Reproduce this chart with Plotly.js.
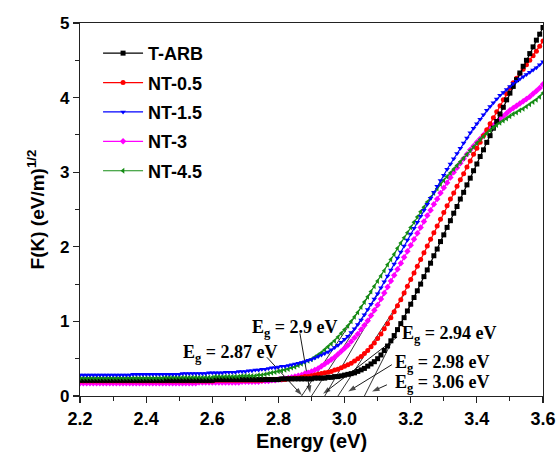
<!DOCTYPE html>
<html>
<head>
<meta charset="utf-8">
<script src="https://cdn.plot.ly/plotly-3.0.1.min.js"></script>
<style>html,body{margin:0;padding:0;background:#fff;}</style>
</head>
<body>
<div id="chart" style="width:560px;height:452px;"></div>
<script>
// ---- data ----
const energy = [
2.20,2.21,2.22,2.23,2.24,2.25,2.26,2.27,2.28,2.29,
2.30,2.31,2.32,2.33,2.34,2.35,2.36,2.37,2.38,2.39,
2.40,2.41,2.42,2.43,2.44,2.45,2.46,2.47,2.48,2.49,
2.50,2.51,2.52,2.53,2.54,2.55,2.56,2.57,2.58,2.59,
2.60,2.61,2.62,2.63,2.64,2.65,2.66,2.67,2.68,2.69,
2.70,2.71,2.72,2.73,2.74,2.75,2.76,2.77,2.78,2.79,
2.80,2.81,2.82,2.83,2.84,2.85,2.86,2.87,2.88,2.89,
2.90,2.91,2.92,2.93,2.94,2.95,2.96,2.97,2.98,2.99,
3.00,3.01,3.02,3.03,3.04,3.05,3.06,3.07,3.08,3.09,
3.10,3.11,3.12,3.13,3.14,3.15,3.16,3.17,3.18,3.19,
3.20,3.21,3.22,3.23,3.24,3.25,3.26,3.27,3.28,3.29,
3.30,3.31,3.32,3.33,3.34,3.35,3.36,3.37,3.38,3.39,
3.40,3.41,3.42,3.43,3.44,3.45,3.46,3.47,3.48,3.49,
3.50,3.51,3.52,3.53,3.54,3.55,3.56,3.57,3.58,3.59,
3.60];

const tARB = [
0.21,0.21,0.21,0.21,0.21,0.21,0.21,0.21,0.21,0.21,
0.21,0.21,0.21,0.21,0.21,0.21,0.21,0.21,0.21,0.21,
0.21,0.21,0.21,0.21,0.21,0.21,0.21,0.21,0.21,0.21,
0.21,0.21,0.21,0.21,0.21,0.21,0.21,0.21,0.21,0.21,
0.21,0.22,0.22,0.22,0.22,0.22,0.22,0.22,0.22,0.22,
0.22,0.22,0.22,0.22,0.22,0.22,0.22,0.22,0.22,0.22,
0.22,0.23,0.23,0.23,0.23,0.23,0.23,0.23,0.23,0.23,
0.23,0.24,0.24,0.24,0.24,0.25,0.25,0.26,0.26,0.27,
0.28,0.29,0.30,0.31,0.33,0.35,0.37,0.40,0.43,0.46,
0.50,0.55,0.61,0.67,0.74,0.81,0.89,0.97,1.05,1.14,
1.23,1.32,1.41,1.50,1.60,1.69,1.78,1.88,1.97,2.07,
2.16,2.26,2.35,2.45,2.54,2.64,2.73,2.83,2.92,3.02,
3.11,3.21,3.30,3.40,3.49,3.59,3.68,3.78,3.87,3.97,
4.06,4.15,4.24,4.33,4.42,4.50,4.59,4.68,4.77,4.85,
4.94];

const nt05 = [
0.20,0.20,0.20,0.20,0.20,0.20,0.20,0.20,0.20,0.20,
0.20,0.20,0.20,0.20,0.20,0.20,0.20,0.20,0.20,0.20,
0.20,0.20,0.20,0.20,0.20,0.20,0.20,0.20,0.20,0.20,
0.20,0.20,0.20,0.20,0.20,0.20,0.20,0.20,0.20,0.20,
0.20,0.21,0.21,0.21,0.21,0.21,0.21,0.21,0.21,0.21,
0.21,0.21,0.21,0.21,0.21,0.21,0.22,0.22,0.22,0.22,
0.22,0.22,0.22,0.23,0.23,0.24,0.24,0.25,0.26,0.26,
0.27,0.28,0.29,0.30,0.31,0.32,0.33,0.35,0.36,0.38,
0.40,0.42,0.44,0.47,0.50,0.53,0.57,0.61,0.66,0.71,
0.77,0.83,0.90,0.97,1.05,1.13,1.21,1.29,1.38,1.47,
1.56,1.65,1.74,1.83,1.92,2.01,2.10,2.19,2.28,2.37,
2.46,2.55,2.64,2.72,2.81,2.90,2.98,3.07,3.15,3.24,
3.32,3.40,3.49,3.57,3.65,3.73,3.81,3.89,3.97,4.05,
4.13,4.20,4.26,4.32,4.38,4.44,4.50,4.56,4.62,4.69,
4.76];

const nt15 = [
0.28,0.28,0.28,0.28,0.28,0.28,0.28,0.28,0.28,0.28,
0.28,0.28,0.28,0.28,0.28,0.28,0.29,0.29,0.29,0.29,
0.29,0.29,0.29,0.29,0.29,0.29,0.29,0.29,0.29,0.29,
0.29,0.30,0.30,0.30,0.30,0.30,0.30,0.30,0.30,0.31,
0.31,0.31,0.31,0.31,0.32,0.32,0.32,0.32,0.33,0.33,
0.33,0.34,0.34,0.35,0.35,0.36,0.36,0.37,0.38,0.38,
0.39,0.40,0.40,0.41,0.42,0.43,0.44,0.45,0.46,0.48,
0.49,0.51,0.53,0.55,0.57,0.59,0.62,0.65,0.68,0.72,
0.76,0.80,0.85,0.90,0.96,1.02,1.09,1.16,1.23,1.30,
1.37,1.45,1.53,1.61,1.69,1.77,1.85,1.93,2.01,2.09,
2.17,2.25,2.33,2.41,2.49,2.57,2.65,2.73,2.81,2.89,
2.96,3.04,3.11,3.18,3.25,3.32,3.39,3.46,3.53,3.59,
3.65,3.71,3.77,3.83,3.88,3.93,3.98,4.03,4.07,4.11,
4.15,4.19,4.22,4.25,4.28,4.31,4.34,4.37,4.40,4.44,
4.48];

const nt3 = [
0.17,0.17,0.17,0.17,0.17,0.17,0.17,0.17,0.17,0.17,
0.17,0.17,0.17,0.17,0.17,0.17,0.17,0.17,0.17,0.17,
0.17,0.17,0.17,0.17,0.17,0.17,0.17,0.17,0.17,0.17,
0.17,0.17,0.17,0.17,0.17,0.17,0.18,0.18,0.18,0.18,
0.18,0.18,0.18,0.18,0.18,0.18,0.18,0.18,0.18,0.19,
0.19,0.19,0.19,0.19,0.19,0.20,0.20,0.20,0.21,0.21,
0.22,0.22,0.23,0.24,0.25,0.26,0.27,0.28,0.30,0.31,
0.33,0.35,0.37,0.40,0.43,0.46,0.49,0.52,0.56,0.60,
0.64,0.68,0.73,0.78,0.83,0.89,0.95,1.01,1.08,1.15,
1.22,1.30,1.38,1.46,1.54,1.62,1.70,1.78,1.86,1.94,
2.02,2.10,2.18,2.26,2.34,2.42,2.49,2.57,2.64,2.72,
2.79,2.86,2.93,3.00,3.06,3.12,3.18,3.24,3.30,3.35,
3.40,3.45,3.50,3.55,3.59,3.63,3.67,3.71,3.75,3.79,
3.83,3.86,3.89,3.92,3.95,3.98,4.01,4.05,4.09,4.13,
4.18];

const nt45 = [
0.24,0.24,0.24,0.24,0.24,0.24,0.24,0.24,0.24,0.24,
0.24,0.24,0.24,0.24,0.24,0.24,0.24,0.24,0.24,0.24,
0.24,0.24,0.24,0.24,0.24,0.24,0.25,0.25,0.25,0.25,
0.25,0.25,0.25,0.25,0.25,0.25,0.25,0.25,0.25,0.25,
0.25,0.26,0.26,0.26,0.26,0.26,0.26,0.26,0.26,0.27,
0.27,0.27,0.27,0.27,0.28,0.28,0.29,0.30,0.31,0.32,
0.33,0.34,0.35,0.36,0.38,0.39,0.41,0.43,0.45,0.47,
0.49,0.52,0.55,0.58,0.62,0.66,0.70,0.74,0.79,0.84,
0.89,0.94,1.00,1.06,1.12,1.19,1.26,1.33,1.40,1.47,
1.54,1.61,1.68,1.76,1.83,1.90,1.98,2.05,2.12,2.19,
2.26,2.33,2.40,2.47,2.53,2.60,2.66,2.72,2.78,2.84,
2.89,2.94,2.99,3.04,3.09,3.14,3.19,3.24,3.29,3.34,
3.39,3.44,3.48,3.52,3.56,3.60,3.63,3.66,3.69,3.72,
3.75,3.78,3.80,3.83,3.85,3.88,3.91,3.94,3.97,4.01,
4.06];

const seriesNames = ["T-ARB", "NT-0.5", "NT-1.5", "NT-3", "NT-4.5"];
const seriesValues = [tARB, nt05, nt15, nt3, nt45];

// band-gap annotations
const egValues = [2.87, 2.9, 2.94, 2.98, 3.06];
const egLabels = ["2.87 eV", "2.9 eV", "2.94 eV", "2.98 eV", "3.06 eV"];
// tangent slope for each curve used to draw the extrapolation lines
const tangentSlopes = [6.6, 6.8, 7.6, 6.8, 8.8];

// ---- styles ----
const colors = ["#000000", "#ff0000", "#0000ff", "#ff00ff", "#148c14"];
const symbols = ["square", "circle", "triangle-down", "diamond", "triangle-left"];

const traces = [];
for (let i = 0; i < egValues.length; i++) {
  const v0 = -0.13, v1 = 1.4;
  traces.push({
    x: [egValues[i] + v0 / tangentSlopes[i], egValues[i] + v1 / tangentSlopes[i]],
    y: [v0, v1],
    mode: "lines", type: "scatter", showlegend: false, hoverinfo: "skip",
    line: {color: "#000", width: 0.8}, cliponaxis: false
  });
}

// label arrows (tail -> head), drawn as line + arrow marker
const labelPos = [
  {x: 2.505, y: 0.57}, {x: 2.714, y: 0.905}, {x: 3.168, y: 0.825},
  {x: 3.146, y: 0.44}, {x: 3.146, y: 0.17}
];
const arrowPos = [
  {x: 2.871, y: 0.01, ax: 2.765, ay: 0.52},
  {x: 2.896, y: 0.04, ax: 2.865, ay: 0.84},
  {x: 2.935, y: 0.03, ax: 3.159, ay: 0.79},
  {x: 3.011, y: 0.06, ax: 3.143, ay: 0.42},
  {x: 3.083, y: 0.06, ax: 3.128, ay: 0.15}
];
for (let i = 0; i < arrowPos.length; i++) {
  const a = arrowPos[i];
  traces.push({
    x: [a.ax, a.x], y: [a.ay, a.y], type: "scatter", mode: "lines+markers",
    showlegend: false, hoverinfo: "skip", cliponaxis: false,
    line: {color: "#000", width: 0.9},
    marker: {symbol: ["circle", "arrow"], size: [0, 8], angleref: "previous",
             color: "#000", line: {width: 0}}
  });
}

const drawOrder = [3, 1, 0, 4, 2];
const curveTraces = [];
for (let k = 0; k < seriesNames.length; k++) {
  curveTraces.push({
    x: energy, y: seriesValues[k], name: seriesNames[k],
    type: "scatter", mode: "lines+markers",
    legendgroup: "g" + k, legendrank: k + 1,
    line: {color: colors[k], width: 1.2},
    marker: {color: colors[k], symbol: symbols[k], size: 5, line: {width: 0}}
  });
}

const annFont = {family: "Liberation Serif, Times New Roman, serif", size: 18, weight: "bold", color: "#000"};
const annotations = [];
for (let i = 0; i < egLabels.length; i++) {
  annotations.push({
    x: labelPos[i].x, y: labelPos[i].y, xref: "x", yref: "y",
    xanchor: "left", yanchor: "middle", showarrow: false,
    text: "E<sub>g</sub> = " + egLabels[i], font: annFont
  });
}

const tickFont = {family: "Liberation Sans, Arial, sans-serif", size: 18, weight: "bold", color: "#000"};
const layout = {
  width: 560, height: 452,
  margin: {l: 80, r: 17, t: 23, b: 56},
  paper_bgcolor: "#fff", plot_bgcolor: "#fff",
  showlegend: true,
  legend: {
    x: 0.039, y: 0.968, xanchor: "left", yanchor: "top",
    bgcolor: "rgba(0,0,0,0)", borderwidth: 0,
    traceorder: "grouped", tracegroupgap: 3, itemwidth: 40,
    font: {family: "Liberation Sans, Arial, sans-serif", size: 18, weight: "bold", color: "#000"}
  },
  xaxis: {
    range: [2.2, 3.6], dtick: 0.2, tick0: 2.2, tickformat: ".1f",
    showgrid: false, zeroline: false,
    showline: true, linecolor: "#222", linewidth: 1.2, mirror: true,
    ticks: "outside", ticklen: 6, tickwidth: 1.2, tickcolor: "#222",
    minor: {dtick: 0.1, ticks: "outside", ticklen: 4, tickwidth: 1, tickcolor: "#222"},
    tickfont: tickFont,
    title: {text: "Energy (eV)", standoff: 6,
      font: {family: "Liberation Sans, Arial, sans-serif", size: 20, weight: "bold", color: "#000"}}
  },
  yaxis: {
    range: [0, 5], dtick: 1, tick0: 0,
    showgrid: false, zeroline: false,
    showline: true, linecolor: "#222", linewidth: 1.2, mirror: true,
    ticks: "outside", ticklen: 6, tickwidth: 1.2, tickcolor: "#222",
    minor: {dtick: 0.5, ticks: "outside", ticklen: 4, tickwidth: 1, tickcolor: "#222"},
    tickfont: {family: "Liberation Sans, Arial, sans-serif", size: 17, weight: "bold", color: "#000"},
    title: {text: "F(K) (eV/m)<sup>1/2</sup>", standoff: 10,
      font: {family: "Liberation Sans, Arial, sans-serif", size: 19, weight: "bold", color: "#000"}}
  },
  annotations: annotations
};

const ordered = traces.concat(drawOrder.map(i => curveTraces[i]));
Plotly.newPlot("chart", ordered, layout, {displayModeBar: false, staticPlot: true});
</script>
</body>
</html>
